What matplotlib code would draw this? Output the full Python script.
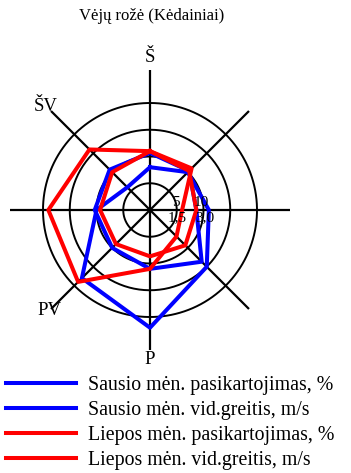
import matplotlib.pyplot as plt
import numpy as np

plt.rcParams["font.family"] = ["Liberation Serif", "DejaVu Serif"]

# wind directions, clockwise from north
directions = ["Š", "ŠR", "R", "PR", "P", "PV", "V", "ŠV"]
shown_labels = ["Š", "ŠV", "PV", "P"]

# frequency, % and mean speed, m/s
jan_freq = [8, 10, 11, 15, 22, 18, 10, 6]
jan_speed = [3.2, 3.1, 2.6, 4.1, 3.3, 3.0, 3.1, 3.2]
jul_freq = [11, 11, 6, 7, 11, 19, 19, 16]
jul_speed = [3.3, 3.1, 2.6, 2.8, 2.6, 2.7, 2.8, 3.0]

ring_freq = [5, 10, 15, 20]
ring_speed = [1.5, 3.0, 4.5, 6.0]
ring_labels_top = ["5", "10"]
ring_labels_bottom = ["1,5", "3,0"]

series = [
    ("Sausio mėn. pasikartojimas, %", jan_freq, 1.0, "#0000ff"),
    ("Sausio mėn. vid.greitis, m/s", jan_speed, ring_freq[0] / ring_speed[0], "#0000ff"),
    ("Liepos mėn. pasikartojimas, %", jul_freq, 1.0, "#ff0000"),
    ("Liepos mėn. vid.greitis, m/s", jul_speed, ring_freq[0] / ring_speed[0], "#ff0000"),
]

W, H = 351, 473
fig = plt.figure(figsize=(W / 100, H / 100), dpi=100)
cx, cy, R = 150, 210, 140
ax = fig.add_axes([(cx - R) / W, (H - cy - R) / H, 2 * R / W, 2 * R / H], projection="polar")
ax.set_theta_zero_location("N")
ax.set_theta_direction(-1)
rmax = ring_freq[-1] * R / 107
ax.set_ylim(0, rmax)
ax.grid(False)
ax.set_xticks([])
ax.set_yticks([])
ax.spines["polar"].set_visible(False)
ax.patch.set_visible(False)

angles = np.deg2rad(np.arange(len(directions)) * 45)

# axis spokes and rings
for a in angles:
    ax.plot([a, a], [0, rmax], color="black", lw=1.6, zorder=1)
circle = np.linspace(0, 2 * np.pi, 300)
for r in ring_freq:
    ax.plot(circle, np.full_like(circle, r), color="black", lw=1.4, zorder=1)

handles = []
for label, vals, scale, color in series:
    v = np.array(vals) * scale
    th = np.append(angles, angles[0])
    rr = np.append(v, v[0])
    (ln,) = ax.plot(th, rr, color=color, lw=2.9, label=label, zorder=3)
    handles.append(ln)

# ring value labels
east = np.pi / 2
for r, t in zip(ring_freq[:2], ring_labels_top):
    ax.annotate(t, xy=(east, r * 0.95), xytext=(0, 1), textcoords="offset points",
                ha="center", va="bottom", fontsize=11, zorder=5)
for r, t in zip(ring_freq[:2], ring_labels_bottom):
    ax.annotate(t, xy=(east, r * 1.03), xytext=(0, -1), textcoords="offset points",
                ha="center", va="top", fontsize=11, zorder=5)

# direction labels
label_r = {"Š": 1.09, "ŠV": 1.05, "PV": 1.02, "P": 1.07}
for d in shown_labels:
    a = angles[directions.index(d)]
    ax.text(a, rmax * label_r[d], d, ha="center", va="center", fontsize=13.5)

fig.text(152 / W, 1 - 16 / H, "Vėjų rožė (Kėdainiai)", ha="center", va="center", fontsize=12)

fig.legend(handles=handles, loc="upper left", bbox_to_anchor=(6 / W, 1 - 376 / H),
           frameon=False, fontsize=14.3, handlelength=3.5, handletextpad=0.65,
           labelspacing=0.3, borderpad=0, borderaxespad=0)

fig.savefig("out.png", dpi=100)
